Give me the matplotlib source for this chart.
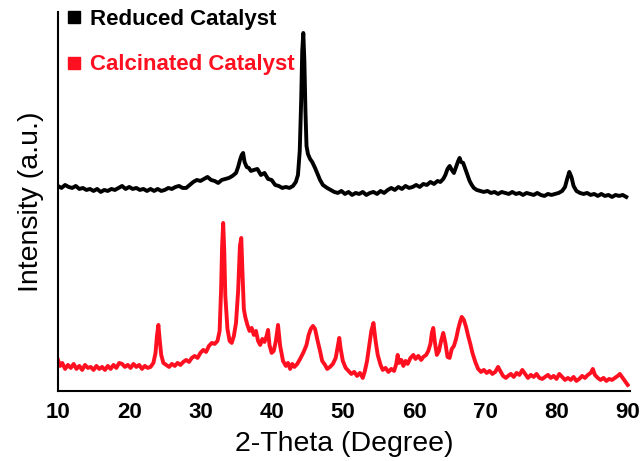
import matplotlib
matplotlib.use('Agg')
import matplotlib.pyplot as plt
from matplotlib.lines import Line2D

# reduced catalyst pattern (offset upward)
reduced_theta = [10.0, 10.5, 11.0, 11.5, 12.0, 12.5, 13.0, 13.5, 14.0, 14.5, 15.0, 15.5, 16.0, 16.5,
                 17.0, 17.5, 18.0, 18.5, 19.0, 19.5, 20.0, 20.5, 21.0, 21.5, 22.0, 22.5, 23.0, 23.5,
                 24.0, 24.5, 25.0, 25.5, 26.0, 26.5, 27.0, 27.5, 28.0, 28.5, 29.0, 29.5, 30.0, 30.5,
                 31.0, 31.5, 32.0, 32.5, 33.0, 33.5, 34.0, 34.5, 35.0, 35.3, 35.6, 35.8, 36.0, 36.2,
                 36.5, 36.8, 37.1, 37.5, 38.0, 38.5, 39.0, 39.5, 40.0, 40.5, 41.0, 41.5, 42.0, 42.5,
                 43.0, 43.4, 43.7, 43.95, 44.15, 44.3, 44.45, 44.6, 44.75, 44.9, 45.1, 45.4, 45.7, 46.1,
                 46.5, 46.8, 47.2, 47.8, 48.3, 48.8, 49.3, 49.8, 50.3, 50.8, 51.3, 51.8, 52.3, 52.8,
                 53.3, 53.8, 54.3, 54.8, 55.3, 55.8, 56.3, 56.8, 57.3, 57.8, 58.3, 58.8, 59.3, 59.8,
                 60.3, 60.8, 61.3, 61.8, 62.3, 62.8, 63.3, 63.7, 64.1, 64.4, 64.7, 65.0, 65.3, 65.6,
                 65.9, 66.2, 66.4, 66.6, 66.9, 67.2, 67.5, 67.8, 68.1, 68.4, 68.8, 69.3, 69.8, 70.3,
                 70.8, 71.3, 71.8, 72.3, 72.8, 73.3, 73.8, 74.3, 74.8, 75.3, 75.8, 76.3, 76.8, 77.3,
                 77.8, 78.3, 78.8, 79.3, 79.8, 80.3, 80.8, 81.2, 81.5, 81.8, 82.1, 82.4, 82.8, 83.3,
                 83.8, 84.3, 84.8, 85.3, 85.8, 86.3, 86.8, 87.3, 87.8, 88.3, 88.8, 89.3, 89.8]
reduced_intensity = [205, 203, 206, 204, 203, 205, 202, 203, 201, 202, 200, 202, 199, 201,
                     200, 202, 201, 203, 205, 202, 204, 202, 203, 201, 202, 200, 202, 200,
                     202, 200, 201, 203, 202, 204, 205, 203, 203, 206, 209, 211, 210, 212,
                     214, 211, 210, 208, 211, 212, 213, 215, 218, 224, 232, 236, 238, 229,
                     224, 223, 220, 221, 222, 216, 218, 212, 211, 206, 205, 203, 204, 203,
                     205, 209, 216, 240, 290, 340, 358, 330, 280, 245, 237, 232, 229, 223,
                     216, 211, 206, 203, 201, 199, 198, 200, 197, 199, 196, 198, 197, 199,
                     196, 198, 199, 197, 200, 198, 201, 203, 201, 204, 202, 205, 203, 204,
                     206, 204, 207, 206, 209, 207, 210, 209, 212, 216, 222, 225, 221, 218,
                     224, 230, 233, 229, 228, 222, 216, 210, 206, 203, 201, 200, 199, 200,
                     198, 199, 197, 199, 198, 197, 199, 197, 198, 196, 198, 197, 196, 198,
                     196, 195, 197, 196, 197, 198, 200, 204, 212, 219, 214, 205, 200, 198,
                     197, 198, 196, 197, 195, 197, 195, 196, 194, 196, 195, 196, 194]

# calcinated catalyst pattern
calcined_theta = [10.0, 10.3, 10.6, 11.0, 11.4, 11.8, 12.2, 12.6, 13.0, 13.4, 13.8, 14.2, 14.6, 15.0,
                  15.4, 15.8, 16.2, 16.6, 17.0, 17.4, 17.8, 18.2, 18.6, 19.0, 19.4, 19.8, 20.2, 20.6,
                  21.0, 21.4, 21.8, 22.2, 22.6, 23.0, 23.4, 23.7, 23.9, 24.1, 24.3, 24.5, 24.8, 25.2,
                  25.6, 26.0, 26.4, 26.8, 27.2, 27.6, 28.0, 28.4, 28.8, 29.2, 29.6, 30.0, 30.4, 30.8,
                  31.2, 31.6, 32.0, 32.4, 32.7, 32.9, 33.05, 33.2, 33.35, 33.5, 33.8, 34.1, 34.4, 34.7,
                  35.0, 35.3, 35.55, 35.74, 35.9, 36.1, 36.3, 36.6, 36.9, 37.2, 37.5, 37.8, 38.1, 38.4,
                  38.7, 39.0, 39.3, 39.5, 39.7, 40.0, 40.3, 40.6, 40.9, 41.2, 41.6, 42.0, 42.3, 42.6,
                  42.9, 43.2, 43.6, 44.0, 44.5, 44.9, 45.2, 45.5, 45.8, 46.1, 46.4, 46.8, 47.1, 47.5,
                  47.8, 48.2, 48.6, 49.0, 49.3, 49.5, 49.7, 50.0, 50.4, 50.8, 51.2, 51.6, 52.0, 52.4,
                  52.8, 53.1, 53.4, 53.7, 54.0, 54.3, 54.6, 54.9, 55.3, 55.6, 56.0, 56.4, 56.8, 57.2,
                  57.5, 57.7, 57.9, 58.2, 58.5, 58.8, 59.1, 59.5, 59.9, 60.2, 60.6, 61.0, 61.3, 61.7,
                  62.0, 62.3, 62.5, 62.7, 62.9, 63.2, 63.5, 63.8, 64.1, 64.4, 64.7, 65.0, 65.3, 65.6,
                  65.9, 66.2, 66.5, 66.7, 67.0, 67.3, 67.6, 67.9, 68.2, 68.6, 69.0, 69.4, 69.8, 70.2,
                  70.6, 71.0, 71.4, 71.8, 72.1, 72.5, 72.9, 73.2, 73.6, 74.0, 74.4, 74.8, 75.2, 75.6,
                  76.0, 76.4, 76.8, 77.2, 77.6, 78.0, 78.4, 78.8, 79.2, 79.6, 80.0, 80.4, 80.8, 81.2,
                  81.6, 82.0, 82.4, 82.8, 83.2, 83.6, 84.0, 84.4, 84.8, 85.1, 85.4, 85.8, 86.2, 86.6,
                  87.0, 87.4, 87.8, 88.2, 88.6, 88.9, 89.3, 89.7, 90.0]
calcined_intensity = [31, 25, 28, 22, 26, 23, 27, 22, 25, 21, 26, 23, 24, 21,
                      25, 22, 24, 21, 25, 22, 26, 23, 28, 27, 24, 26, 23, 27,
                      24, 26, 22, 25, 23, 24, 28, 38, 55, 66, 50, 36, 28, 26,
                      24, 27, 25, 28, 26, 29, 31, 29, 33, 35, 33, 38, 41, 39,
                      45, 48, 47, 50, 60, 100, 145, 168, 140, 95, 62, 50, 48, 55,
                      68, 100, 145, 153, 120, 82, 74, 66, 60, 63, 56, 60, 50, 46,
                      52, 49, 55, 61, 46, 38, 40, 50, 66, 45, 30, 25, 28, 22,
                      27, 24, 27, 32, 39, 46, 56, 62, 65, 62, 52, 40, 30, 26,
                      22, 24, 27, 33, 45, 53, 42, 30, 23, 20, 17, 19, 15, 18,
                      13, 20, 30, 45, 60, 68, 50, 36, 26, 21, 23, 19, 22, 20,
                      27, 36, 28, 31, 25, 30, 27, 33, 36, 32, 35, 31, 34, 36,
                      40, 47, 58, 63, 50, 36, 40, 50, 58, 48, 34, 33, 42, 45,
                      52, 62, 70, 74, 71, 64, 55, 47, 38, 29, 22, 19, 21, 18,
                      20, 17, 19, 24, 20, 15, 13, 15, 17, 14, 18, 16, 21, 17,
                      13, 16, 14, 17, 13, 12, 14, 16, 13, 15, 12, 17, 14, 11,
                      13, 11, 14, 10, 12, 15, 13, 16, 18, 22, 16, 13, 11, 13,
                      10, 12, 11, 13, 15, 17, 13, 9, 6]

red = '#ff1020'

plt.rcParams['font.family'] = ['Liberation Sans', 'DejaVu Sans']
fig = plt.figure(figsize=(6.44, 4.61), dpi=100)
ax = fig.add_axes([0.090, 0.152, 0.888, 0.822])

ax.plot(reduced_theta, reduced_intensity, color='black', lw=2.8)
ax.plot(calcined_theta, calcined_intensity, color=red, lw=2.8)

ax.set_xlim(10, 90.3)
ax.set_ylim(0, 379)
ax.set_xticks(range(10, 91, 10))
ax.set_yticks([])
ax.tick_params(axis='x', length=0, pad=8, labelsize=16)
for lbl in ax.get_xticklabels():
    lbl.set_fontweight('bold')
for side in ['top', 'right']:
    ax.spines[side].set_visible(False)
for side in ['left', 'bottom']:
    ax.spines[side].set_linewidth(1.5)

ax.set_xlabel('2-Theta (Degree)', fontsize=20.5, labelpad=6)
ax.set_ylabel('Intensity (a.u.)', fontsize=20.5, labelpad=10)

handles = [Line2D([], [], ls='none', marker='s', ms=8.5, color='black'),
           Line2D([], [], ls='none', marker='s', ms=8.5, color=red)]
leg = ax.legend(handles, ['Reduced Catalyst', 'Calcinated Catalyst'],
                loc='upper left', bbox_to_anchor=(67 / 644, 1 - 9 / 461),
                bbox_transform=fig.transFigure, frameon=False, borderpad=0,
                borderaxespad=0, handlelength=0.6, handletextpad=0.45,
                labelspacing=1.1, prop={'size': 16, 'weight': 'bold'})
for txt, col in zip(leg.get_texts(), ['black', red]):
    txt.set_color(col)

plt.savefig('out.png')
